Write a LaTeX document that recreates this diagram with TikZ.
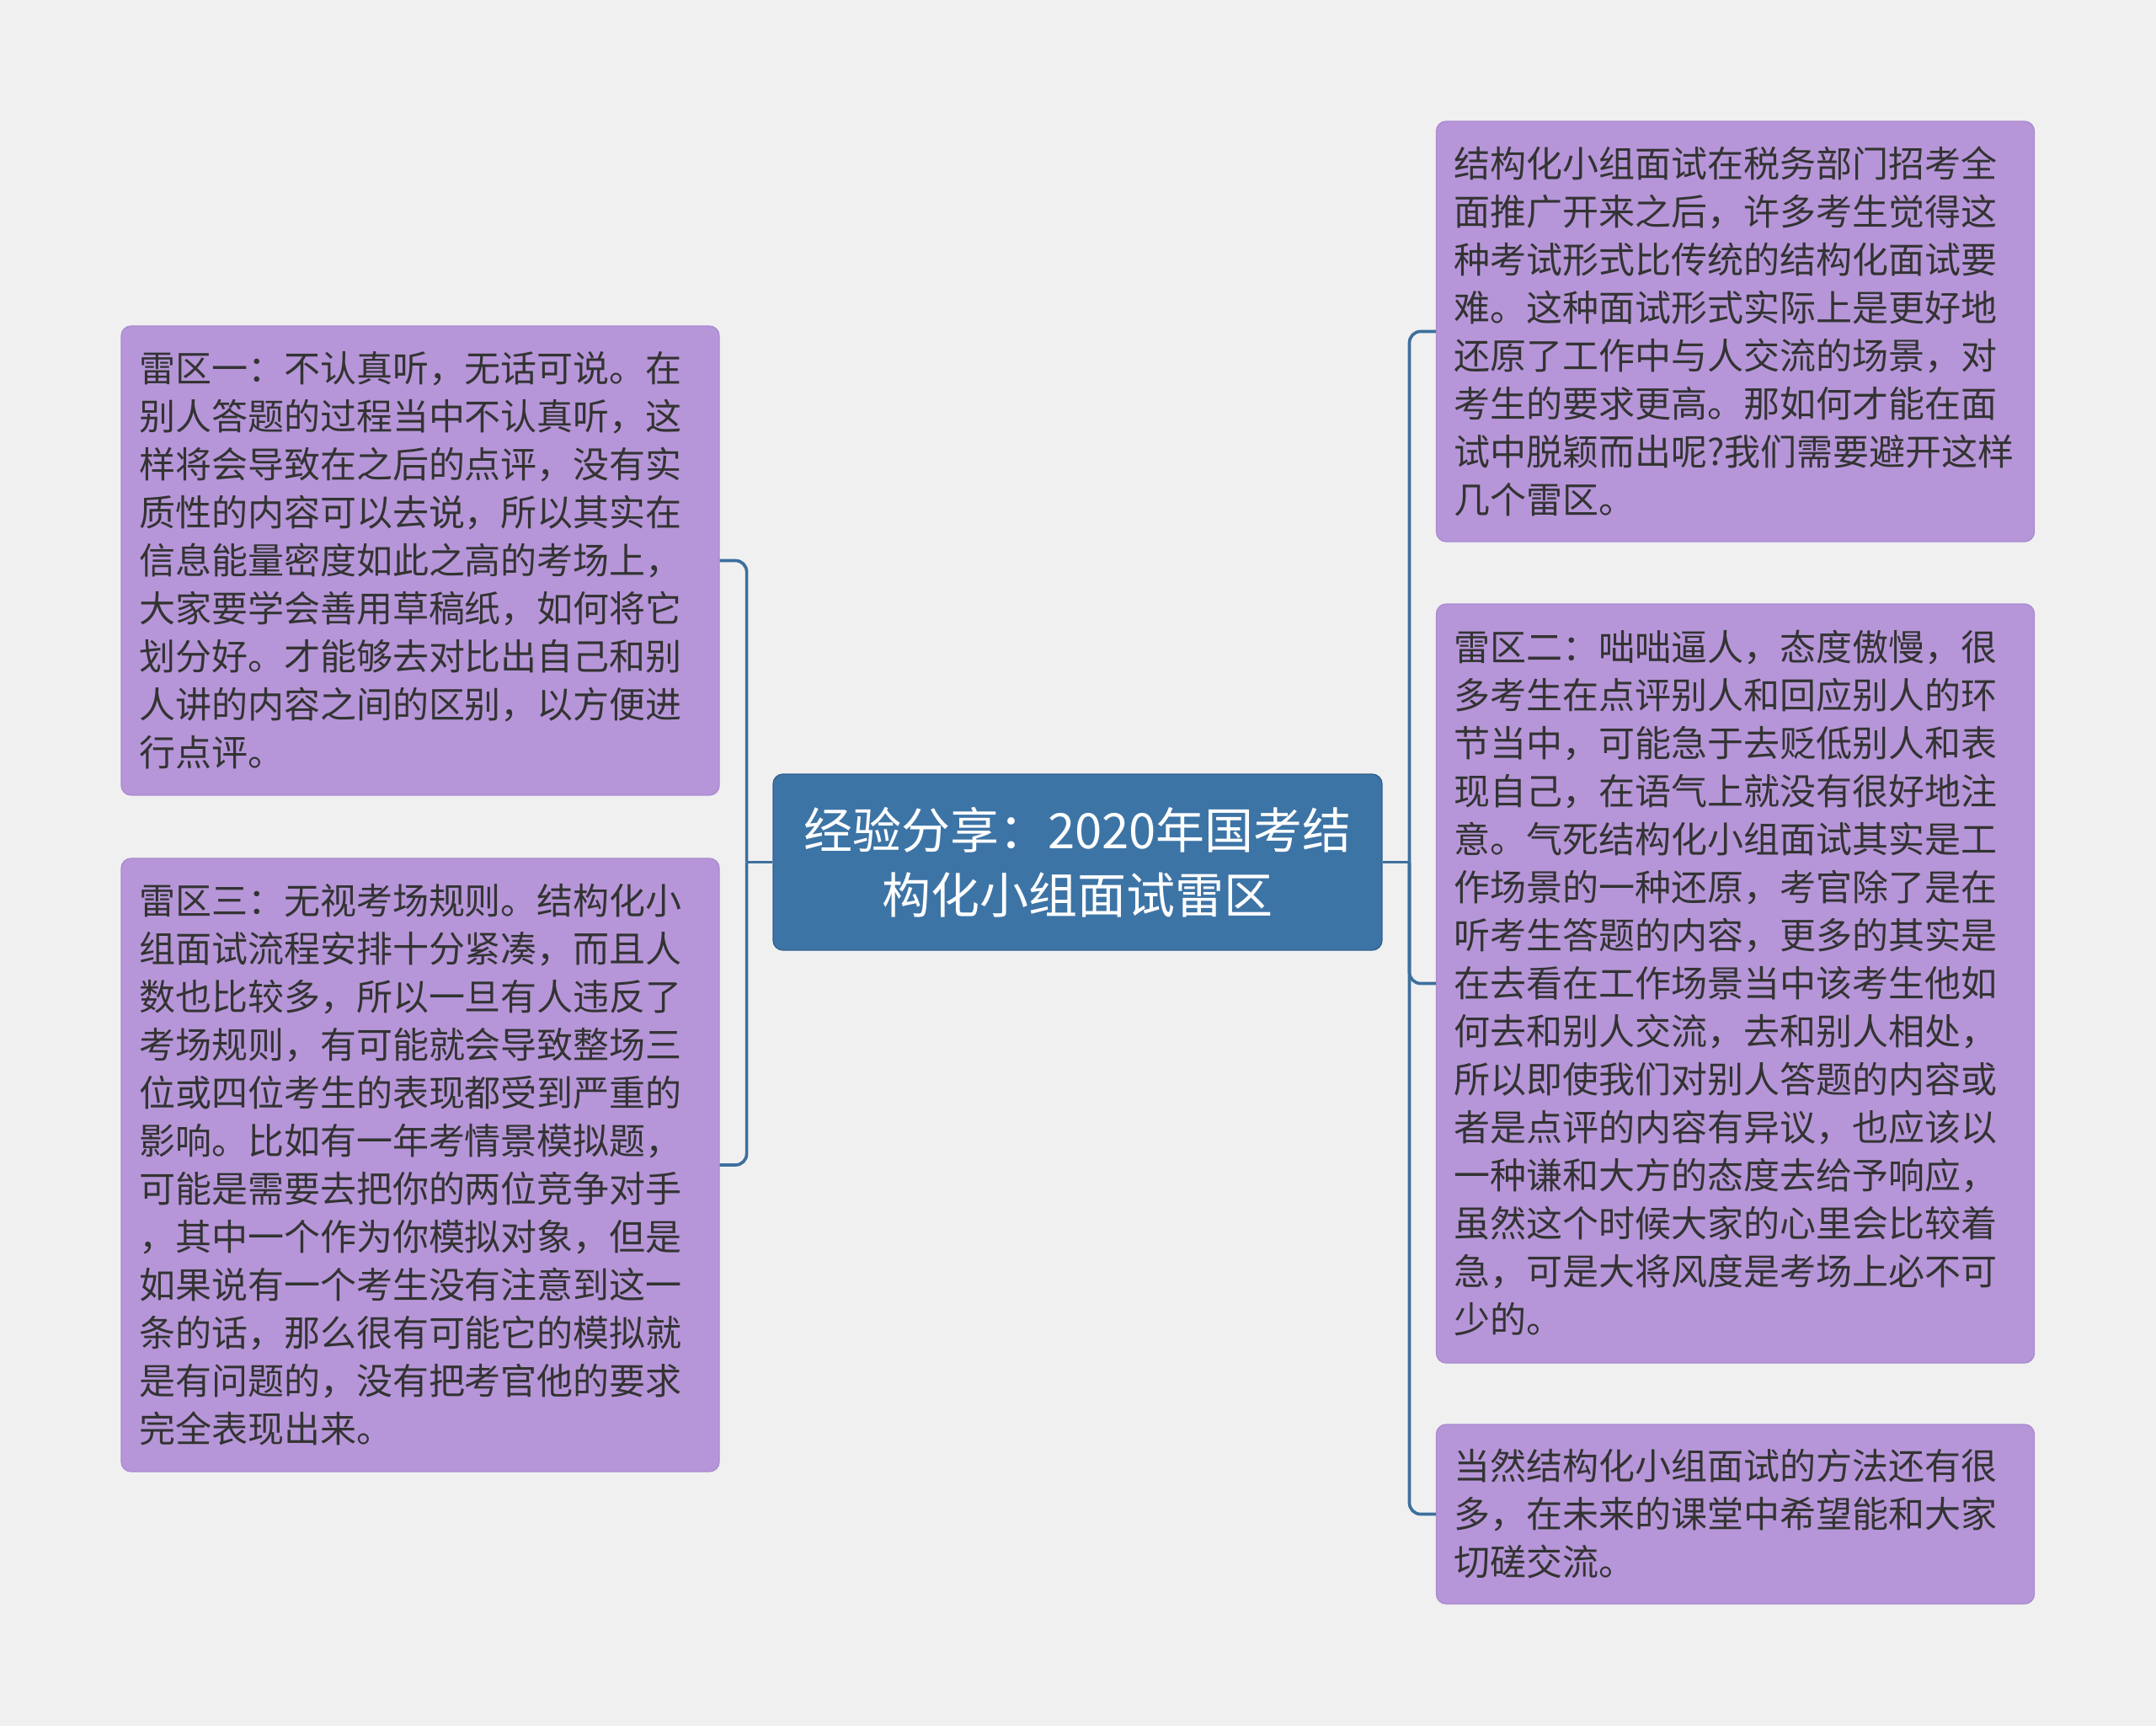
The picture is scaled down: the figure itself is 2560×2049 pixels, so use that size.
\documentclass[tikz,border=0pt]{standalone}
\usepackage{fontspec}
\newfontfamily\cjk{Noto Sans CJK SC}
\definecolor{bg}{HTML}{F0F0F0}
\definecolor{leaf}{HTML}{B696D8}
\definecolor{leafline}{HTML}{AA8ACF}
\definecolor{rootc}{HTML}{3D74A6}
\definecolor{rootline}{HTML}{30618F}
\definecolor{link}{HTML}{3D6F9D}
\definecolor{ink}{HTML}{333333}
\begin{document}
\begin{tikzpicture}[x=0.3pt,y=-0.3pt,
  leafbox/.style={fill=leaf, draw=leafline, line width=0.4pt, rounded corners=3.5pt,
    inner xsep=6.3pt, inner ysep=0pt, text=ink,
    font=\cjk\fontsize{12.9pt}{17.1pt}\selectfont, align=left,
    text width=200.4pt, minimum width=213pt},
  rootbox/.style={fill=rootc, draw=rootline, line width=0.4pt, rounded corners=3.5pt,
    inner xsep=0pt, inner ysep=0pt, text=white,
    font=\cjk\fontsize{17.4pt}{23pt}\selectfont, align=center,
    minimum width=216.9pt, minimum height=62.7pt},
  link/.style={draw=link, line width=1.1pt, rounded corners=4pt}]
\useasboundingbox (0,0) rectangle (2560,2049);
\fill[bg] (0,0) rectangle (2560,2049);

\node[rootbox] (C) at (1279.5,1023.5) {经验分享：2020年国考结\\构化小组面试雷区};

\node[leafbox, minimum height=167.1pt] (L1) at (499,665.5) {雷区一：不认真听，无话可说。在\\别人答题的过程当中不认真听，这\\样将会导致在之后的点评，没有实\\质性的内容可以去说，所以其实在\\信息能量密度如此之高的考场上，\\大家要学会善用草稿纸，如何将它\\划分好。才能够去对比出自己和别\\人讲的内容之间的区别，以方便进\\行点评。};

\node[leafbox, minimum height=218.4pt] (L2) at (499,1383) {雷区三：无视考场规则。结构化小\\组面试流程安排十分紧凑，而且人\\数也比较多，所以一旦有人违反了\\考场规则，有可能就会导致整场三\\位或四位考生的表现都受到严重的\\影响。比如有一年考情景模拟题，\\可能是需要去把你的两位竞争对手\\，其中一个作为你模拟对象，但是\\如果说有一个考生没有注意到这一\\条的话，那么很有可能它的模拟就\\是有问题的，没有把考官他的要求\\完全表现出来。};

\node[leafbox, minimum width=212.7pt, minimum height=149.7pt] (R1) at (2060.5,393.5) {结构化小组面试在税务部门招考全\\面推广开来之后，许多考生觉得这\\种考试形式比传统的结构化面试要\\难。这种面试形式实际上是更好地\\还原了工作中与人交流的场景，对\\考生的要求更高。那如何才能在面\\试中脱颖而出呢?我们需要避开这样\\几个雷区。};

\node[leafbox, minimum width=212.7pt, minimum height=270.3pt] (R2) at (2060.5,1167.5) {雷区二：咄咄逼人，态度傲慢，很\\多考生在点评别人和回应别人的环\\节当中，可能急于去贬低别人和表\\现自己，在语气上就没有很好地注\\意。气死结构化小组面试其实是工\\作场景的一种还原，考官除了是在\\听考生答题的内容，更多的其实是\\在去看在工作场景当中该考生他如\\何去和别人交流，去和别人相处，\\所以即使我们对别人答题的内容或\\者是点评的内容有异议，也应该以\\一种谦和大方的态度去给予响应，\\虽然这个时候大家的心里会比较着\\急，可是大将风度是考场上必不可\\少的。};

\node[leafbox, minimum width=212.7pt, minimum height=63.9pt] (R3) at (2060.5,1797.5) {当然结构化小组面试的方法还有很\\多，在未来的课堂中希望能和大家\\切磋交流。};

\coordinate (jl) at (886.6,1023.5);
\coordinate (jr) at (1673.5,1023.5);
\draw[link] (C.west) -- (jl);
\draw[link] (jl) |- (L1.east);
\draw[link] (jl) |- (L2.east);
\draw[link] (C.east) -- (jr);
\draw[link] (jr) |- (R1.west);
\draw[link] (jr) |- (R2.west);
\draw[link] (jr) |- (R3.west);
\end{tikzpicture}
\end{document}
